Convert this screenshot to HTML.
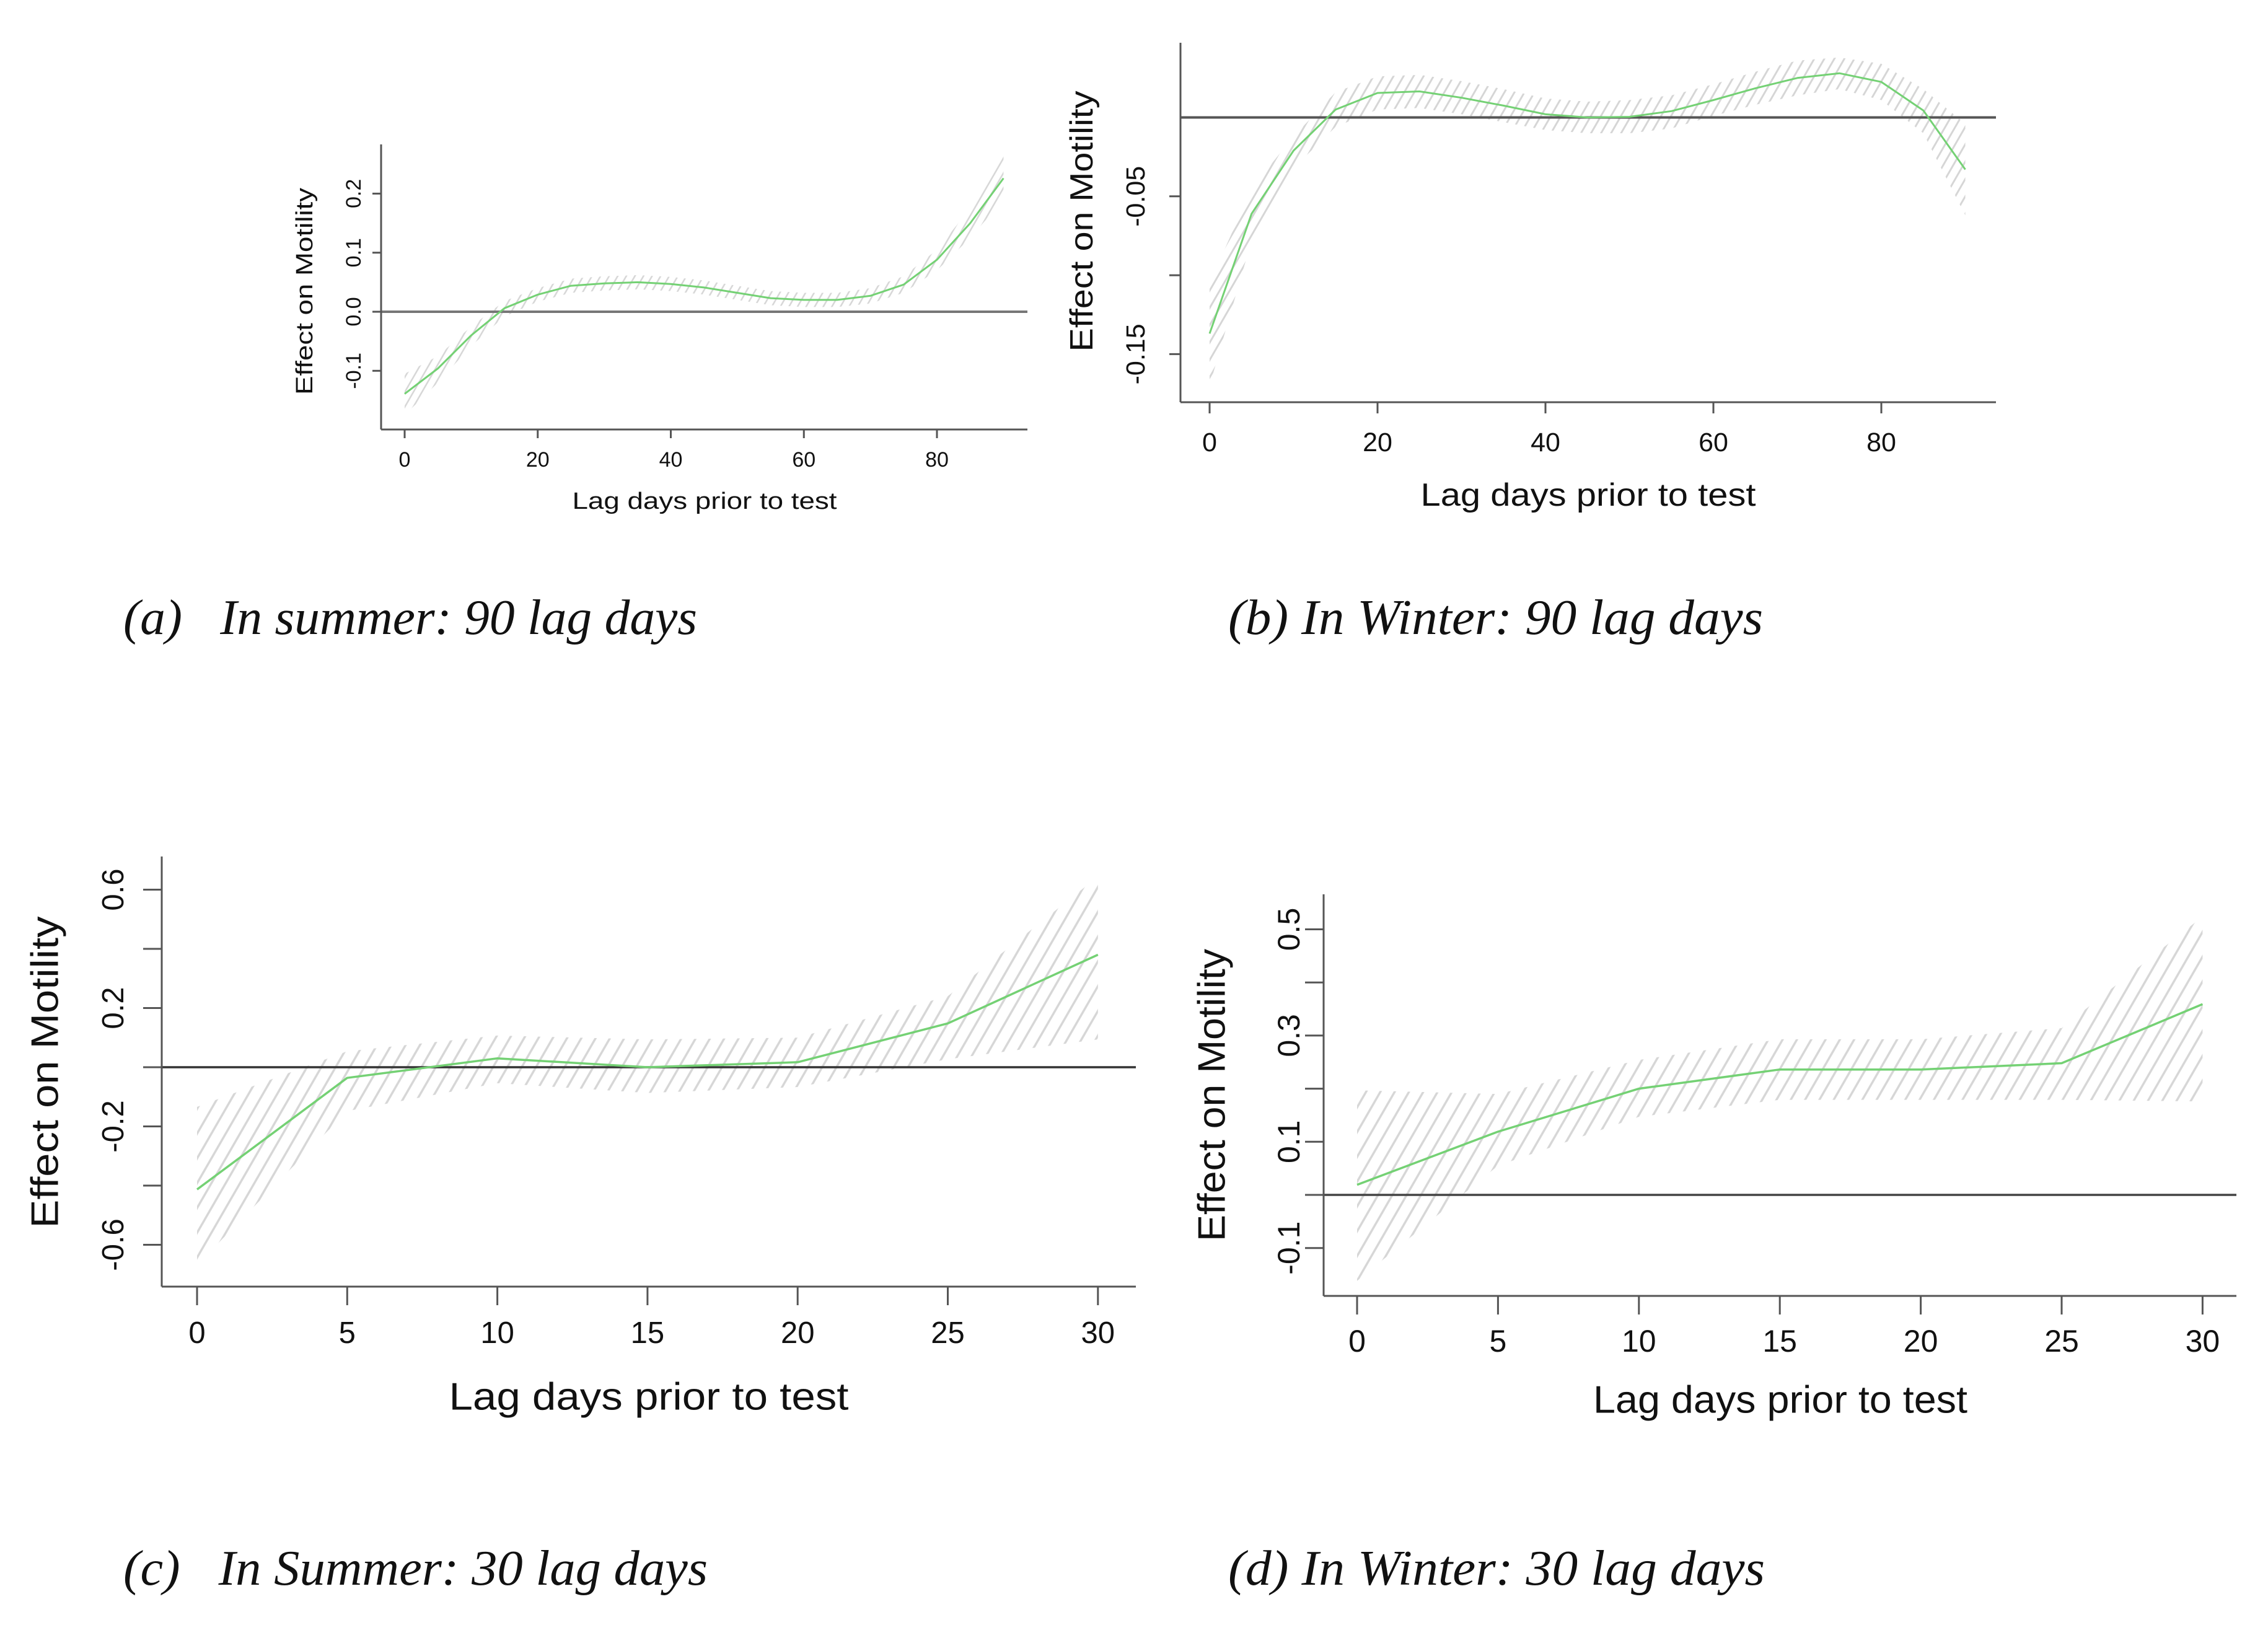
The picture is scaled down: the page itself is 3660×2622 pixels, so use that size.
<!DOCTYPE html>
<html><head><meta charset="utf-8"><style>
html,body{margin:0;padding:0;background:#fff;}
svg{display:block;}
text{font-family:"Liberation Sans",Arial,sans-serif;fill:#111;}
.cap{font-family:"Liberation Serif",serif;font-style:italic;font-size:80px;fill:#111;}
</style></head><body>
<svg id="fig" width="3660" height="2622" viewBox="0 0 3660 2622" xmlns="http://www.w3.org/2000/svg">
<rect width="3660" height="2622" fill="#fff"/>
<text class="cap" x="199" y="1023" textLength="926" lengthAdjust="spacingAndGlyphs" xml:space="preserve">(a)   In summer: 90 lag days</text>
<text class="cap" x="1982" y="1023" textLength="863" lengthAdjust="spacingAndGlyphs">(b) In Winter: 90 lag days</text>
<text class="cap" x="199" y="2557" textLength="943" lengthAdjust="spacingAndGlyphs" xml:space="preserve">(c)   In Summer: 30 lag days</text>
<text class="cap" x="1982" y="2557" textLength="866" lengthAdjust="spacingAndGlyphs">(d) In Winter: 30 lag days</text>
</svg>
<script>
// ---- Panel A data (summer, 90 lag days) ----
const lagA = [0,5,10,15,20,25,30,35,40,45,50,55,60,65,70,75,80,85,90];
const effA = [-0.139,-0.096,-0.04,0.006,0.029,0.044,0.048,0.05,0.047,0.041,0.032,0.023,0.02,0.02,0.027,0.046,0.088,0.15,0.226];
const upA  = [-0.105,-0.075,-0.025,0.018,0.04,0.056,0.06,0.062,0.059,0.053,0.044,0.035,0.032,0.032,0.04,0.06,0.105,0.175,0.27];
const loA  = [-0.175,-0.12,-0.058,-0.008,0.017,0.032,0.036,0.038,0.035,0.029,0.02,0.011,0.008,0.008,0.014,0.032,0.07,0.125,0.19];
const xTicksA = [0,20,40,60,80];
const yTicksA = [-0.1,0,0.1,0.2];
const yLabelsA = ["-0.1","0.0","0.1","0.2"];
// ---- Panel B data (winter, 90 lag days) ----
const lagB = [0,5,10,15,20,25,30,35,40,45,50,55,60,65,70,75,80,85,90];
const effB = [-0.137,-0.061,-0.021,0.005,0.0155,0.0165,0.0125,0.0075,0.002,0,0.0004,0.004,0.011,0.0185,0.025,0.028,0.0225,0.0044,-0.033];
const upB  = [-0.105,-0.045,-0.012,0.016,0.026,0.027,0.023,0.018,0.012,0.01,0.011,0.014,0.021,0.029,0.036,0.038,0.034,0.018,-0.004];
const loB  = [-0.17,-0.078,-0.032,-0.006,0.005,0.006,0.002,-0.003,-0.008,-0.01,-0.01,-0.007,0.001,0.008,0.014,0.018,0.011,-0.01,-0.062];
const xTicksB = [0,20,40,60,80];
const yTicksB = [-0.15,-0.1,-0.05];
const yLabelsB = ["-0.15","","-0.05"];
// ---- Panel C data (summer, 30 lag days) ----
const lagC = [0,5,10,15,20,25,30];
const effC = [-0.413,-0.036,0.03,0,0.017,0.148,0.38];
const upC  = [-0.134,0.054,0.107,0.094,0.1,0.24,0.644];
const loC  = [-0.668,-0.148,-0.054,-0.087,-0.067,0.027,0.094];
const xTicksC = [0,5,10,15,20,25,30];
const yTicksC = [-0.6,-0.4,-0.2,0,0.2,0.4,0.6];
const yLabelsC = ["-0.6","","-0.2","","0.2","","0.6"];
// ---- Panel D data (winter, 30 lag days) ----
const lagD = [0,5,10,15,20,25,30];
const effD = [0.019,0.119,0.2,0.236,0.236,0.248,0.359];
const upD  = [0.197,0.19,0.254,0.293,0.293,0.314,0.524];
const loD  = [-0.162,0.055,0.147,0.179,0.179,0.179,0.176];
const xTicksD = [0,5,10,15,20,25,30];
const yTicksD = [-0.1,0,0.1,0.2,0.3,0.4,0.5];
const yLabelsD = ["-0.1","","0.1","","0.3","","0.5"];

const NS = "http://www.w3.org/2000/svg";
const svg = document.getElementById('fig');
const defs = document.createElementNS(NS,'defs');
svg.appendChild(defs);
function mk(tag, attrs, parent){
  const e = document.createElementNS(NS, tag);
  for (const k in attrs) e.setAttribute(k, attrs[k]);
  (parent||svg).appendChild(e);
  return e;
}
function panel(id, lag, eff, up, lo, xt, yt, yl, c){
  const g = mk('g', {});
  
  
  const X = v => c.x0 + (v - c.xv0) * c.xs;
  const Y = v => c.y0 - v * c.ys;
  const pat = mk('pattern', {id:'hatch-'+id, patternUnits:'userSpaceOnUse', width:c.hs, height:c.hs, patternTransform:'rotate(30)'}, defs);
  mk('line', {x1:c.hs/2, y1:0, x2:c.hs/2, y2:c.hs, stroke:'#d6d6d6', 'stroke-width':c.hw}, pat);
  let pts = [];
  for (let i=0;i<lag.length;i++) pts.push(X(lag[i]).toFixed(1)+','+Y(up[i]).toFixed(1));
  for (let i=lag.length-1;i>=0;i--) pts.push(X(lag[i]).toFixed(1)+','+Y(lo[i]).toFixed(1));
  const band = mk('polygon', {points:pts.join(' '), fill:'url(#hatch-'+id+')'}, g);
  
  
  const zl = mk('line', {x1:c.ax, y1:Y(0), x2:c.axR, y2:Y(0), stroke:c.zc, 'stroke-width':c.zw}, g);
  
  
  let cp = [];
  for (let i=0;i<lag.length;i++) cp.push(X(lag[i]).toFixed(1)+','+Y(eff[i]).toFixed(1));
  const cur = mk('polyline', {points:cp.join(' '), fill:'none', stroke:'#74d174', 'stroke-width':c.lw, 'stroke-linejoin':'round'}, g);
  
  
  const ya = mk('line', {x1:c.ax, y1:c.ayT, x2:c.ax, y2:c.ay, stroke:'#555', 'stroke-width':3}, g);
  
  
  const xa = mk('line', {x1:c.ax, y1:c.ay, x2:c.axR, y2:c.ay, stroke:'#555', 'stroke-width':3}, g);
  
  
  xt.forEach(v => {
    mk('line', {x1:X(v), y1:c.ay, x2:X(v), y2:c.ay+c.tl, stroke:'#555', 'stroke-width':3}, g);
    const t = mk('text', {x:X(v), y:c.xly, 'text-anchor':'middle', 'dominant-baseline':'central', 'font-size':c.tf}, g);
    t.textContent = String(v);
    
    
  });
  yt.forEach((v,i) => {
    mk('line', {x1:c.ax-c.tl, y1:Y(v), x2:c.ax, y2:Y(v), stroke:'#555', 'stroke-width':3}, g);
    if (yl[i]) {
      const t = mk('text', {x:0, y:0, transform:'translate('+c.ylx+','+Y(v)+') rotate(-90)', 'text-anchor':'middle', 'dominant-baseline':'central', 'font-size':c.tf}, g);
      t.textContent = yl[i];
      
      
    }
  });
  const xl = mk('text', {x:c.xtx, y:c.xty, 'text-anchor':'middle', 'dominant-baseline':'central', 'font-size':c.lf, textLength:c.xtl, lengthAdjust:'spacingAndGlyphs'}, g);
  xl.textContent = 'Lag days prior to test';
  
  
  const yy = mk('text', {x:0, y:0, transform:'translate('+c.ytx+','+c.yty+') rotate(-90)', 'text-anchor':'middle', 'dominant-baseline':'central', 'font-size':c.lf, textLength:c.ytl, lengthAdjust:'spacingAndGlyphs'}, g);
  yy.textContent = 'Effect on Motility';
  
  
}
panel('a', lagA, effA, upA, loA, xTicksA, yTicksA, yLabelsA,
  {x0:653, xv0:0, xs:(1512-653)/80, y0:503, ys:953, ax:615, ay:693, ayT:233, axR:1658, tl:14,
   xly:742, ylx:571, tf:34, lf:38, xtx:1137, xty:809, xtl:427, ytx:492, yty:470, ytl:334,
   hs:12, hw:2.5, lw:3, zc:'#777', zw:4});
panel('b', lagB, effB, upB, loB, xTicksB, yTicksB, yLabelsB,
  {x0:1952, xv0:0, xs:271/20, y0:189.5, ys:127.3/0.05, ax:1905, ay:649, ayT:69, axR:3221, tl:18,
   xly:714, ylx:1833, tf:43, lf:52, xtx:2563, xty:799, xtl:541, ytx:1746, yty:357, ytl:421,
   hs:14, hw:3, lw:3, zc:'#555', zw:4});
panel('c', lagC, effC, upC, loC, xTicksC, yTicksC, yLabelsC,
  {x0:318, xv0:0, xs:242.3/5, y0:1722, ys:95.5/0.2, ax:261, ay:2076, ayT:1382, axR:1833, tl:30,
   xly:2151, ylx:183, tf:49, lf:62, xtx:1047, xty:2254, xtl:645, ytx:73, yty:1730, ytl:503,
   hs:20, hw:3.5, lw:3.5, zc:'#333', zw:3.5});
panel('d', lagD, effD, upD, loD, xTicksD, yTicksD, yLabelsD,
  {x0:2190, xv0:0, xs:227.4/5, y0:1928, ys:857, ax:2136, ay:2091, ayT:1443, axR:3609, tl:30,
   xly:2164, ylx:2080, tf:50, lf:62, xtx:2873, xty:2259, xtl:604, ytx:1956, yty:1767, ytl:472,
   hs:20, hw:3.5, lw:3.5, zc:'#444', zw:3.5});
</script>
</body></html>
